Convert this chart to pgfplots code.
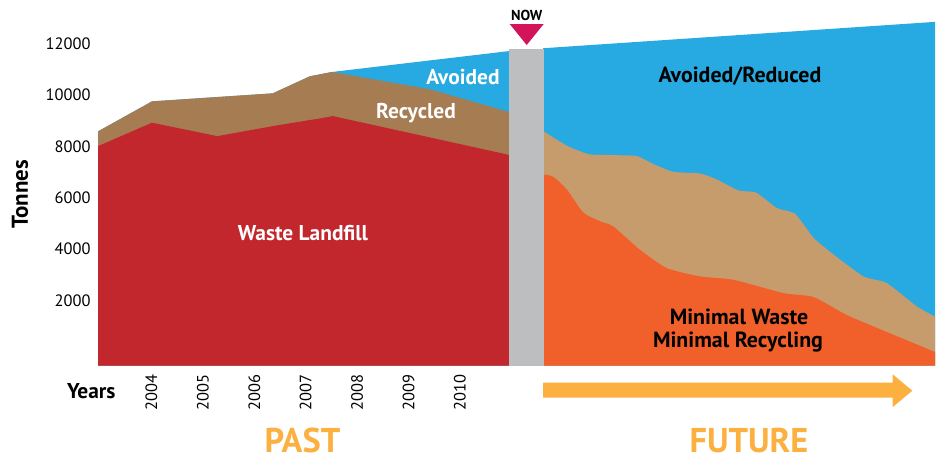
\documentclass[border=0pt]{standalone}
\usepackage{pgfplots}
\pgfplotsset{compat=1.18}
\usepgfplotslibrary{fillbetween}
\usepackage{fontspec}
\setmainfont{PT Sans}
\definecolor{cRed}{HTML}{C1272D}
\definecolor{cBrown}{HTML}{A67C52}
\definecolor{cBlue}{HTML}{27AAE1}
\definecolor{cGray}{HTML}{BCBEC0}
\definecolor{cTan}{HTML}{C69C6D}
\definecolor{cOrange}{HTML}{F15F2A}
\definecolor{cYellow}{HTML}{FBB040}
\definecolor{cNow}{HTML}{D4145A}
\begin{document}
\begin{tikzpicture}
\begin{axis}[
  scale only axis, width=837bp, height=365.7bp,
  xmin=2002.96, xmax=2019.24, ymin=-535, ymax=13690,
  axis line style={draw=none}, tick style={draw=none},
  xtick={2004,2005,...,2010}, ytick={2000,4000,...,12000},
  scaled y ticks=false, scaled x ticks=false,
  /pgf/number format/assume math mode=true,
  /pgf/number format/1000 sep={},
  tick label style={font=\fontsize{16.5}{18}\selectfont},
  xticklabel style={rotate=90, anchor=east},
  xticklabel shift=5bp, yticklabel shift=4bp,
]
% past
\addplot[fill=cBlue, draw=none] coordinates {(2002.96,-535) (2002.96,8578) (2004.01,9747) (2006.36,10059) (2007.08,10722) (2007.51,10890) (2010.98,11709) (2010.98,-535)};
\addplot[fill=cBrown, draw=none] coordinates {(2002.96,-535) (2002.96,8578) (2004.01,9747) (2006.36,10059) (2007.08,10722) (2007.51,10890) (2009.42,10215) (2010.98,9319) (2010.98,-535)};
\addplot[fill=cRed, draw=none] coordinates {(2002.96,-535) (2002.96,8005) (2004.01,8917) (2005.28,8394) (2006.36,8784) (2007.28,9085) (2007.53,9174) (2010.98,7654) (2010.98,-535)};
% future
\addplot[name path=bot, draw=none] coordinates {(2011.62,-535) (2019.24,-535)};
\addplot[name path=blueTop, draw=none] coordinates {(2011.62,11814) (2019.24,12839)};
\addplot[name path=tanTop, draw=none, smooth, tension=0.35] coordinates {(2011.62,8590) (2012.08,8020) (2012.45,7720) (2012.62,7670) (2013.12,7650) (2013.45,7615) (2013.75,7320) (2014.15,7006) (2014.67,6940) (2015.0,6706) (2015.42,6280) (2015.76,6200) (2016.16,5603) (2016.52,5369) (2016.88,4433) (2017.27,3782) (2017.85,2936) (2018.30,2679) (2018.89,1766) (2019.24,1376)};
\addplot[name path=orTop, draw=none, smooth, tension=0.35] coordinates {(2011.62,6901) (2011.81,6820) (2012.08,6316) (2012.40,5419) (2012.73,5080) (2012.98,4885) (2013.50,3977) (2014.02,3263) (2014.67,2936) (2015.32,2807) (2016.29,2289) (2016.88,2133) (2017.59,1376) (2019.24,0)};
\addplot[fill=cBlue, draw=none] fill between[of=blueTop and bot];
\addplot[fill=cTan, draw=none] fill between[of=tanTop and bot];
\addplot[fill=cOrange, draw=none] fill between[of=orTop and bot];
% now bar
\addplot[fill=cGray, draw=none] coordinates {(2010.96,-535) (2010.96,11775) (2011.64,11775) (2011.64,-535)};
\end{axis}
\begin{scope}[x=1bp,y=1bp]
\fill[cNow] (411.7,341.7) -- (445.7,341.7) -- (428.7,320.7) -- cycle;
\node[font=\bfseries\fontsize{14.5}{16}\selectfont] at (428.7,350.7) {NOW};
\node[text=white, font=\bfseries\fontsize{21.5}{24}\selectfont] at (365,289) {Avoided};
\node[text=white, font=\bfseries\fontsize{21.5}{24}\selectfont] at (318,252.7) {Recycled};
\node[text=white, font=\bfseries\fontsize{21.5}{24}\selectfont] at (205,132.7) {Waste Landfill};
\node[font=\bfseries\fontsize{22}{24}\selectfont] at (642,289) {Avoided/Reduced};
\node[font=\bfseries\fontsize{22}{24}\selectfont] at (641,49) {Minimal Waste};
\node[font=\bfseries\fontsize{22}{24}\selectfont] at (640,24) {Minimal Recycling};
\node[rotate=90, font=\bfseries\fontsize{23}{25}\selectfont] at (-78,171.2) {Tonnes};
\node[font=\bfseries\fontsize{21.5}{24}\selectfont] at (-6.7,-25) {Years};
\node[text=cYellow, anchor=base, inner sep=0pt, font=\bfseries\fontsize{34.5}{40}\selectfont] at (204.5,-86.3) {PAST};
\node[text=cYellow, anchor=base, inner sep=0pt, font=\bfseries\fontsize{34.5}{40}\selectfont] at (651,-86.3) {FUTURE};
\fill[cYellow] (445,-17) -- (794.7,-17) -- (794.7,-8.6) -- (814.3,-25) -- (794.7,-41.4) -- (794.7,-32) -- (445,-32) -- cycle;
\path[use as bounding box] (-98,-95.3) rectangle (846,365.7);
\end{scope}
\end{tikzpicture}
\end{document}
